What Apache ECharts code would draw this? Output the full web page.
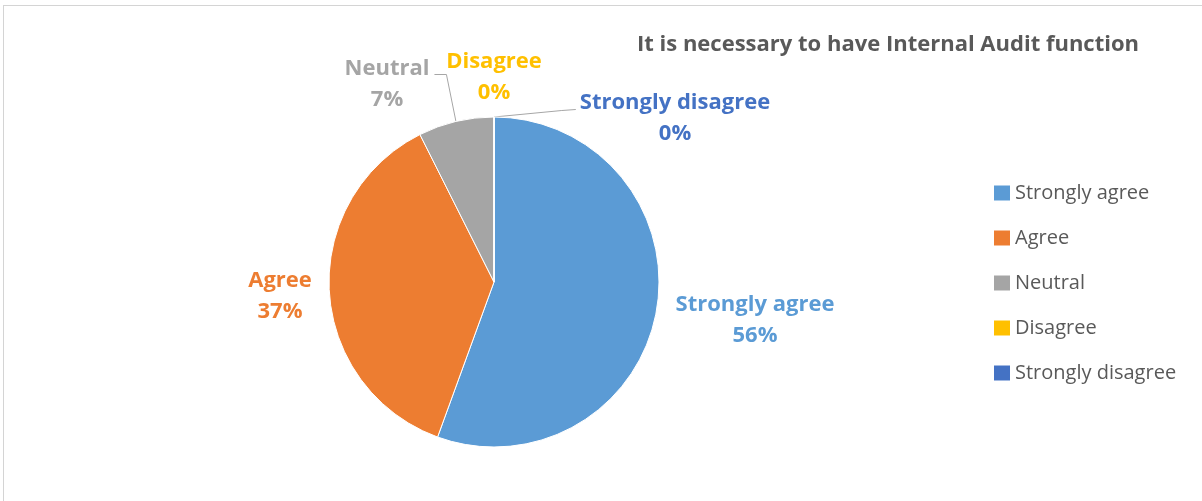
<!DOCTYPE html>
<html>
<head>
<meta charset="utf-8">
<script src="https://cdn.jsdelivr.net/npm/echarts@6/dist/echarts.min.js"></script>
<style>
  html, body { margin: 0; padding: 0; background: #fff; }
  #frame {
    position: absolute; left: 3px; top: 5px; width: 1300px; height: 600px;
    border-top: 1px solid #d4d4d4; border-left: 1px solid #d4d4d4;
  }
  #chart { position: absolute; left: 0; top: 0; width: 1202px; height: 501px; }
</style>
</head>
<body>
<div id="frame"></div>
<div id="chart"></div>
<script>
// Survey responses: "It is necessary to have Internal Audit function"
const titleText = 'It is necessary to have Internal Audit function';
const categories = ['Strongly agree', 'Agree', 'Neutral', 'Disagree', 'Strongly disagree'];
const counts = [15, 10, 2, 0, 0];
const colors = ['#5b9bd5', '#ed7d31', '#a5a5a5', '#ffc000', '#4472c4'];

// Pie geometry
const PIE_CENTER = [494, 282];
const PIE_RADIUS = 165;

// Where each category's data label sits (label centre, in px)
const labelSpots = [
  [755, 320],
  [280, 296],
  [387, 84],
  [494, 77],
  [675, 118]
];
const LINE_H = 31;

const FONT = '"Open Sans", Lato, sans-serif';

// Point on the rim at the middle of a slice (clockwise from 12 o'clock)
function rimPoint(index) {
  const total = counts.reduce(function (a, b) { return a + b; }, 0);
  let before = 0;
  for (let i = 0; i < index; i++) before += counts[i];
  const mid = (before + counts[index] / 2) / total * Math.PI * 2;
  return [PIE_CENTER[0] + PIE_RADIUS * Math.sin(mid), PIE_CENTER[1] - PIE_RADIUS * Math.cos(mid)];
}

const chart = echarts.init(document.getElementById('chart'), null, { renderer: 'canvas' });

chart.setOption({
  animation: false,
  backgroundColor: 'transparent',
  color: colors,
  title: {
    text: titleText,
    left: 637,
    top: 34,
    padding: 0,
    textStyle: { fontFamily: FONT, fontSize: 22, fontWeight: 'bold', color: '#595959' }
  },
  legend: {
    orient: 'vertical',
    left: 989,
    top: 178,
    icon: 'rect',
    itemWidth: 16,
    itemHeight: 15,
    itemGap: 25,
    itemStyle: { borderWidth: 0 },
    data: categories,
    textStyle: { fontFamily: FONT, fontSize: 20, color: '#595959' }
  },
  series: [{
    type: 'pie',
    center: PIE_CENTER,
    radius: PIE_RADIUS,
    startAngle: 90,
    clockwise: true,
    percentPrecision: 0,
    avoidLabelOverlap: false,
    itemStyle: { borderColor: '#ffffff', borderWidth: 1 },
    label: {
      show: true,
      position: 'outside',
      formatter: '{b}\n{d}%',
      fontFamily: FONT,
      fontSize: 22,
      fontWeight: 'bold',
      lineHeight: LINE_H,
      align: 'center'
    },
    labelLine: {
      show: true,
      lineStyle: { color: '#a6a6a6', width: 1 }
    },
    labelLayout: function (params) {
      const i = params.dataIndex;
      const p = labelSpots[i];
      const w = params.labelRect.width;
      const firstLineY = p[1] - LINE_H / 2;
      const out = { x: p[0], y: p[1], align: 'center', verticalAlign: 'middle' };
      if (i === 2) {
        // Neutral: short horizontal tick off the first line, then down to the slice
        const right = p[0] + w / 2;
        out.labelLinePoints = [rimPoint(i), [right + 17, firstLineY + 6], [right + 5, firstLineY + 6]];
      } else if (i === 4) {
        // Strongly disagree: from the top of the rim across to the label
        const left = p[0] - w / 2;
        out.labelLinePoints = [rimPoint(i), [left - 18, firstLineY + 8], [left - 4, firstLineY + 7]];
      }
      return out;
    },
    data: categories.map(function (name, i) {
      return {
        name: name,
        value: counts[i],
        label: { color: colors[i] },
        labelLine: { show: i === 2 || i === 4 }
      };
    })
  }]
});
</script>
</body>
</html>
